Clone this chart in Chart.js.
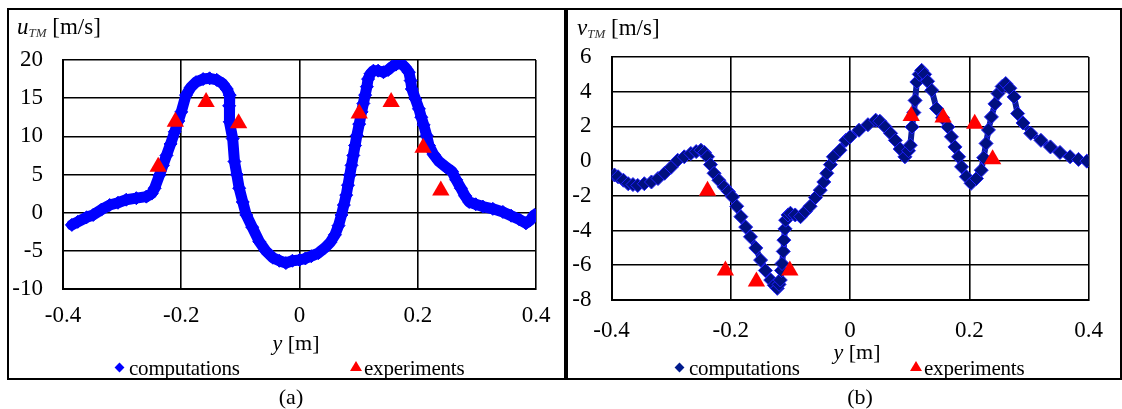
<!DOCTYPE html>
<html>
<head>
<meta charset="utf-8">
<script src="https://cdn.jsdelivr.net/npm/chart.js@4/dist/chart.umd.min.js"></script>
<style>
  body { margin: 0; background: #fff; }
  #page { position: relative; width: 1122px; height: 409px; background: #fff; overflow: hidden;
          font-family: "Liberation Serif", "Times New Roman", serif; color: #000; }
  .box { position: absolute; border: 2px solid #000; box-sizing: border-box; }
  canvas { position: absolute; }
  .txt { position: absolute; white-space: nowrap; line-height: 24px; height: 24px; }
  .ytitle { font-size: 23px; }
  .ytitle sub { font-size: 13px; font-style: italic; color: #333; vertical-align: -3px; }
  .xtitle { font-size: 22px; transform: translateX(-50%); }
  .leg { font-size: 21px; letter-spacing: -0.2px; }
  .dia { position: absolute; width: 7px; height: 7px; transform: rotate(45deg); }
  .tri { position: absolute; width: 0; height: 0; border-left: 6px solid transparent;
         border-right: 6px solid transparent; border-bottom: 10px solid #f00; }
  .cap { font-size: 22px; transform: translateX(-50%); }
</style>
</head>
<body>
<div id="page">
  <div class="box" style="left:7px; top:8px; width:559px; height:372px;"></div>
  <div class="box" style="left:566px; top:8px; width:556px; height:372px;"></div>

  <canvas id="chartA" width="555" height="368" style="left:9px; top:10px;"></canvas>
  <canvas id="chartB" width="552" height="368" style="left:568px; top:10px;"></canvas>

  <div class="txt ytitle" style="left:17px; top:15px;"><i>u</i><sub>TM</sub> [m/s]</div>
  <div class="txt ytitle" style="left:577px; top:16px;"><i>v</i><sub>TM</sub> [m/s]</div>

  <div class="txt xtitle" style="left:296px; top:331px;"><i>y</i> [m]</div>
  <div class="txt xtitle" style="left:857px; top:340px;"><i>y</i> [m]</div>

  <div class="dia" style="left:116px; top:364px; background:#00f;"></div>
  <div class="txt leg" style="left:129px; top:356px;">computations</div>
  <div class="tri" style="left:350px; top:361px;"></div>
  <div class="txt leg" style="left:364px; top:356px;">experiments</div>

  <div class="dia" style="left:676px; top:364px; background:#001a8c;"></div>
  <div class="txt leg" style="left:689px; top:356px;">computations</div>
  <div class="tri" style="left:910px; top:361px;"></div>
  <div class="txt leg" style="left:924px; top:356px;">experiments</div>

  <div class="txt cap" style="left:291px; top:385px;">(a)</div>
  <div class="txt cap" style="left:860px; top:385px;">(b)</div>
</div>

<script>
// (a) u_TM, computations
const compA_y = [-0.385, -0.375, -0.36, -0.349, -0.335, -0.321, -0.307, -0.293, -0.276, -0.259,
  -0.25, -0.245, -0.237, -0.231, -0.225, -0.218, -0.211, -0.205, -0.2, -0.192,
  -0.184, -0.175, -0.163, -0.152, -0.14, -0.13, -0.123, -0.118, -0.119, -0.118,
  -0.113, -0.11, -0.106, -0.102, -0.096, -0.09, -0.08, -0.068, -0.057, -0.045,
  -0.034, -0.023, -0.012, 0.0, 0.01, 0.02, 0.032, 0.043, 0.052, 0.06,
  0.066, 0.071, 0.075, 0.079, 0.082, 0.085, 0.088, 0.091, 0.094, 0.097,
  0.101, 0.105, 0.108, 0.111, 0.114, 0.116, 0.12, 0.125, 0.133, 0.142,
  0.15, 0.156, 0.163, 0.17, 0.178, 0.185, 0.188, 0.19, 0.196, 0.202,
  0.206, 0.21, 0.215, 0.219, 0.227, 0.236, 0.247, 0.258, 0.265, 0.273,
  0.28, 0.287, 0.298, 0.31, 0.327, 0.344, 0.358, 0.372, 0.383, 0.39, 0.397];
const compA_u = [-1.6, -1.2, -0.6, -0.3, 0.4, 1.0, 1.3, 1.7, 1.9, 2.1,
  2.5, 3.2, 4.9, 6.2, 7.5, 9.0, 10.6, 12.0, 13.2, 15.4,
  16.4, 17.1, 17.5, 17.6, 17.4, 16.9, 16.2, 15.4, 14.0, 11.9,
  9.7, 6.7, 5.0, 3.2, 1.4, -0.3, -1.9, -3.8, -5.0, -5.9,
  -6.3, -6.6, -6.3, -6.2, -6.0, -5.7, -5.3, -4.6, -3.9, -2.9,
  -1.7, -0.3, 1.0, 2.3, 3.6, 4.9, 6.2, 7.5, 8.8, 10.1,
  11.6, 13.2, 14.3, 15.4, 16.5, 17.5, 18.2, 18.6, 18.6, 18.4,
  18.7, 19.1, 19.4, 19.7, 19.1, 18.4, 17.3, 16.2, 14.9, 13.6,
  12.5, 11.5, 10.1, 8.8, 7.6, 6.7, 6.0, 5.4, 4.3, 3.2,
  2.2, 1.4, 1.1, 0.8, 0.5, 0.1, -0.4, -0.9, -1.4, -1.0, -0.3];

// (a) u_TM, experiments
const expA_y = [-0.239, -0.210, -0.158, -0.103, 0.101, 0.155, 0.209, 0.239];
const expA_u = [6.0, 11.9, 14.5, 11.7, 13.0, 14.5, 8.5, 2.9];

// (b) v_TM, computations
const compB_y = [-0.395, -0.389, -0.38, -0.372, -0.364, -0.356, -0.345, -0.333, -0.322, -0.311,
  -0.3, -0.289, -0.278, -0.267, -0.258, -0.25, -0.244, -0.239, -0.234, -0.228,
  -0.22, -0.211, -0.204, -0.197, -0.19, -0.183, -0.175, -0.167, -0.158, -0.15,
  -0.142, -0.133, -0.127, -0.122, -0.119, -0.117, -0.115, -0.114, -0.112, -0.111,
  -0.109, -0.108, -0.104, -0.1, -0.092, -0.083, -0.075, -0.067, -0.058, -0.05,
  -0.044, -0.039, -0.033, -0.028, -0.017, -0.007, 0.0, 0.015, 0.03, 0.043,
  0.05, 0.059, 0.068, 0.076, 0.084, 0.092, 0.098, 0.101, 0.104, 0.107,
  0.109, 0.112, 0.116, 0.12, 0.125, 0.13, 0.137, 0.145, 0.155, 0.164,
  0.17, 0.176, 0.182, 0.187, 0.195, 0.203, 0.212, 0.22, 0.224, 0.228,
  0.232, 0.237, 0.243, 0.248, 0.255, 0.261, 0.268, 0.275, 0.281, 0.29,
  0.303, 0.32, 0.336, 0.352, 0.369, 0.383, 0.397];
const compB_v = [-0.8, -0.9, -1.1, -1.3, -1.35, -1.4, -1.3, -1.2, -1.0, -0.7,
  -0.35, 0.05, 0.25, 0.44, 0.55, 0.63, 0.5, 0.25, -0.2, -0.7,
  -1.1, -1.48, -1.75, -2.06, -2.6, -3.2, -3.8, -4.36, -5.0, -5.7,
  -6.3, -6.85, -7.15, -7.33, -7.1, -6.85, -6.3, -5.9, -5.2, -4.55,
  -3.9, -3.4, -3.1, -3.0, -3.1, -3.2, -2.9, -2.6, -2.1, -1.67,
  -1.2, -0.7, -0.2, 0.25, 0.63, 1.2, 1.4, 1.78, 2.1, 2.36,
  2.3, 1.97, 1.6, 1.2, 0.7, 0.25, 0.6, 0.92, 1.97, 2.8,
  3.5, 4.56, 5.0, 5.23, 5.0, 4.6, 4.08, 3.03, 2.5, 1.97,
  1.4, 0.82, 0.25, -0.33, -0.9, -1.28, -1.0, -0.52, 0.2, 1.02,
  1.8, 2.55, 3.3, 3.9, 4.3, 4.47, 4.2, 3.7, 2.74, 2.2,
  1.6, 1.2, 0.82, 0.5, 0.25, 0.1, 0.0];

// (b) v_TM, experiments
const expB_y = [-0.239, -0.209, -0.157, -0.101, 0.1025, 0.156, 0.209, 0.239];
const expB_v = [-1.71, -6.30, -6.94, -6.30, 2.60, 2.51, 2.15, 0.11];

const xTicks = [-0.4, -0.2, 0, 0.2, 0.4];

function pts(xs, ys) {
  return xs.map(function(x, i) { return {x: x, y: ys[i]}; });
}

const tickFont = {family: '"Liberation Serif", "Times New Roman", serif', size: 23};

function makeChart(id, cfg) {
  return new Chart(document.getElementById(id), {
    type: 'scatter',
    data: {
      datasets: [{
        label: 'experiments',
        data: cfg.exp,
        pointStyle: 'triangle',
        pointRadius: 10,
        pointBackgroundColor: '#ff0000',
        pointBorderColor: '#ff0000',
        pointBorderWidth: 0,
        showLine: false,
        order: 0
      }, {
        label: 'computations',
        data: cfg.comp,
        showLine: true,
        borderColor: cfg.lineColor,
        borderWidth: cfg.lineWidth,
        borderJoinStyle: 'round',
        borderCapStyle: 'round',
        pointStyle: 'rectRot',
        pointRadius: cfg.pointRadius,
        pointBackgroundColor: cfg.pointColor,
        pointBorderColor: cfg.pointEdge,
        pointBorderWidth: 1,
        order: 1
      }]
    },
    options: {
      responsive: false,
      animation: false,
      devicePixelRatio: 1,
      layout: {padding: cfg.padding},
      plugins: {legend: {display: false}, tooltip: {enabled: false}},
      scales: {
        x: {
          type: 'linear',
          min: -0.4, max: 0.4,
          afterBuildTicks: function(axis) {
            axis.ticks = xTicks.map(function(v) { return {value: v}; });
          },
          afterFit: function(axis) { axis.height = cfg.xHeight; },
          grid: {color: '#000', lineWidth: 1.6, drawTicks: false},
          border: {color: '#000', width: 2},
          ticks: {
            color: '#000', font: tickFont, padding: cfg.xPad, maxRotation: 0,
            callback: function(v) { return String(Math.round(v * 10) / 10); }
          }
        },
        y: {
          min: cfg.yMin, max: cfg.yMax,
          afterFit: function(axis) { axis.width = cfg.yWidth; },
          grid: {color: '#000', lineWidth: 1.6, drawTicks: false},
          border: {color: '#000', width: 2},
          ticks: {color: '#000', font: tickFont, padding: 20, stepSize: cfg.yStep}
        }
      }
    }
  });
}

makeChart('chartA', {
  comp: pts(compA_y, compA_u),
  exp: pts(expA_y, expA_u),
  lineColor: '#0000ff', lineWidth: 11, pointRadius: 6.5,
  pointColor: '#0000ff', pointEdge: '#0000ff',
  yMin: -10, yMax: 20, yStep: 5,
  yWidth: 54, xHeight: 40, xPad: 13,
  padding: {top: 50, right: 28, left: 0, bottom: 49}
});

makeChart('chartB', {
  comp: pts(compB_y, compB_v),
  exp: pts(expB_y, expB_v),
  lineColor: '#0a1a9a', lineWidth: 6, pointRadius: 7,
  pointColor: '#001080', pointEdge: '#2020ff',
  yMin: -8, yMax: 6, yStep: 2,
  yWidth: 43.5, xHeight: 40, xPad: 17,
  padding: {top: 47, right: 24.5, left: 0, bottom: 38}
});
</script>
</body>
</html>
